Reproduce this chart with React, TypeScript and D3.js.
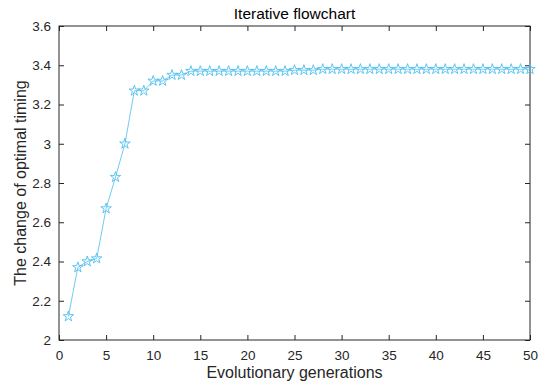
import React, { useEffect, useRef } from 'react'
import * as d3 from 'd3'

// evolutionary generation -> optimal timing
const generations = d3.range(1, 51)
const timing = [
  2.12, 2.37, 2.40, 2.415, 2.67, 2.83, 3.00, 3.27, 3.27, 3.32,
  3.32, 3.35, 3.35, 3.37, 3.37, 3.37, 3.37, 3.37, 3.37, 3.37,
  3.37, 3.37, 3.37, 3.37, 3.375, 3.375, 3.375, 3.38, 3.38, 3.38,
  3.38, 3.38, 3.38, 3.38, 3.38, 3.38, 3.38, 3.38, 3.38, 3.38,
  3.38, 3.38, 3.38, 3.38, 3.38, 3.38, 3.38, 3.38, 3.38, 3.38,
]
const xTicks = [0, 5, 10, 15, 20, 25, 30, 35, 40, 45, 50]
const yTicks = [2, 2.2, 2.4, 2.6, 2.8, 3, 3.2, 3.4, 3.6]

export default function App() {
  const ref = useRef<SVGSVGElement>(null)
  const W = 544, H = 387
  const margin = { top: 26, right: 14, bottom: 47, left: 59 }

  useEffect(() => {
    if (!ref.current) return
    document.body.style.margin = '0'
    const svg = d3.select(ref.current)
    svg.selectAll('*').remove()
    const w = W - margin.left - margin.right
    const h = H - margin.top - margin.bottom
    const x = d3.scaleLinear().domain([0, 50]).range([0, w])
    const y = d3.scaleLinear().domain([2, 3.6]).range([h, 0])
    const axisColor = '#262626'
    const font = 'Liberation Sans, Arial, sans-serif'

    const g = svg.append('g').attr('transform', `translate(${margin.left},${margin.top})`)
    g.append('rect').attr('width', w).attr('height', h).attr('fill', 'white')

    const styleAxis = (sel: any) => {
      sel.select('.domain').remove()
      sel.selectAll('line').attr('stroke', axisColor)
      sel.selectAll('text').attr('fill', axisColor).attr('font-family', font).attr('font-size', 13.5)
    }

    g.append('g').attr('transform', `translate(0,${h})`)
      .call(d3.axisBottom(x).tickValues(xTicks).tickSize(-5).tickPadding(10).tickFormat(d3.format('d')))
      .call(styleAxis)
    g.append('g')
      .call(d3.axisTop(x).tickValues(xTicks).tickSize(-5).tickFormat(() => ''))
      .call(styleAxis)
    g.append('g')
      .call(d3.axisLeft(y).tickValues(yTicks).tickSize(-5).tickPadding(8).tickFormat(d3.format('~g')))
      .call(styleAxis)
    g.append('g').attr('transform', `translate(${w},0)`)
      .call(d3.axisRight(y).tickValues(yTicks).tickSize(-5).tickFormat(() => ''))
      .call(styleAxis)

    g.append('rect').attr('width', w).attr('height', h)
      .attr('fill', 'none').attr('stroke', axisColor).attr('stroke-width', 1)

    const pts = generations.map((gen, i) => [gen, timing[i]] as [number, number])
    const color = 'rgb(77,190,238)'
    g.append('path').datum(pts)
      .attr('d', d3.line().x(d => x(d[0])).y(d => y(d[1])))
      .attr('fill', 'none').attr('stroke', color).attr('stroke-width', 0.8)

    const star = d3.symbol().type(d3.symbolStar).size(34)
    g.selectAll('.pt').data(pts).enter().append('path')
      .attr('transform', d => `translate(${x(d[0])},${y(d[1])})`)
      .attr('d', star as any)
      .attr('fill', 'none').attr('stroke', color).attr('stroke-width', 0.9)

    svg.append('text').attr('x', margin.left + w / 2).attr('y', 19)
      .attr('text-anchor', 'middle').attr('font-family', font).attr('font-size', 15.5)
      .attr('fill', 'black').text('Iterative flowchart')
    svg.append('text').attr('x', margin.left + w / 2).attr('y', 378)
      .attr('text-anchor', 'middle').attr('font-family', font).attr('font-size', 16)
      .attr('fill', axisColor).text('Evolutionary generations')
    svg.append('text').attr('transform', `translate(26,${margin.top + h / 2}) rotate(-90)`)
      .attr('text-anchor', 'middle').attr('font-family', font).attr('font-size', 16)
      .attr('fill', axisColor).text('The change of optimal timing')
  }, [])

  return (
    <svg ref={ref} width={W} height={H} style={{ display: 'block', background: 'white' }} />
  )
}
